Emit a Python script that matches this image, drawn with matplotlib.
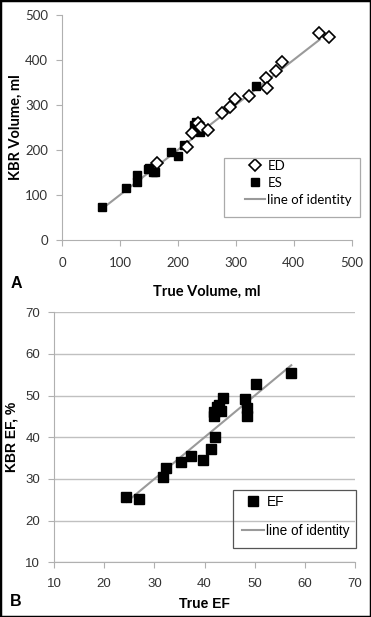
import numpy as np
import matplotlib
matplotlib.use('Agg')
import matplotlib.pyplot as plt
from matplotlib.patches import Rectangle

# panel A: volumes (ml)
ed_true = [164, 215, 224, 235, 240, 252, 277, 290, 299, 323, 352, 354, 369, 380, 444, 460]
ed_kbr = [170, 207, 237, 259, 250, 244, 281, 296, 314, 320, 359, 337, 374, 396, 459, 451]
es_true = [69, 110, 129, 130, 148, 151, 157, 160, 188, 201, 210, 227, 231, 238, 335]
es_kbr = [74, 116, 144, 129, 157, 159, 150, 152, 196, 187, 211, 255, 262, 240, 342]
ident_a = [69, 445]

# panel B: ejection fraction (%)
ef_true = [24.4, 27.0, 31.7, 32.3, 35.3, 37.3, 39.8, 41.2, 42.0, 41.8, 41.8, 42.4,
           42.8, 43.3, 43.6, 48.0, 48.5, 48.4, 50.3, 57.2]
ef_kbr = [25.6, 25.3, 30.5, 32.6, 34.1, 35.4, 34.5, 37.1, 40.1, 45.1, 46.1, 47.2,
          47.7, 46.3, 49.5, 49.1, 47.0, 45.1, 52.8, 55.4]
ident_b = [24.5, 57.3]

W, H = 371, 617
fig = plt.figure(figsize=(W/100, H/100), dpi=100)
gray = '#9a9a9a'
axcol = '#b0b0b0'
fa = ['Lato', 'DejaVu Sans']
fb = ['Liberation Sans', 'DejaVu Sans']

def fig_box(x0, y0, x1, y1, col):
    # legend frame drawn by hand, pixel coords from top
    fig.patches.append(Rectangle((x0/W, 1-y1/H), (x1-x0)/W, (y1-y0)/H, transform=fig.transFigure,
                                 fill=False, edgecolor=col, lw=0.9, zorder=5))

# ---- panel A
ax1 = fig.add_axes([62/W, 1-240/H, 289.7/W, 225.3/H])
ax1.plot(ident_a, ident_a, color=gray, lw=1.5, zorder=1, label='line of identity')
ax1.plot(es_true, es_kbr, 's', ms=6, color='black', zorder=2, label='ES')
ax1.plot(ed_true, ed_kbr, 'D', ms=6, mfc='white', mec='black', mew=1.2, zorder=3, label='ED')
ax1.set_xlim(0, 500)
ax1.set_ylim(0, 500)
ax1.set_xticks(np.arange(0, 501, 100))
ax1.set_yticks(np.arange(0, 501, 100))
for s in ['top', 'right']:
    ax1.spines[s].set_visible(False)
for s in ['left', 'bottom']:
    ax1.spines[s].set_color(axcol)
ax1.tick_params(direction='out', length=4, color=axcol, labelsize=9.5)
ax1.tick_params(axis='x', pad=8)
ax1.tick_params(axis='y', pad=6)
for t in ax1.get_xticklabels() + ax1.get_yticklabels():
    t.set_family(fa)
    t.set_color('#333333')
ax1.set_xlabel('True Volume, ml', family=fa, fontweight='bold', fontsize=10.5, va='top')
ax1.set_ylabel('KBR Volume, ml', family=fa, fontweight='bold', fontsize=10.5)
ax1.xaxis.set_label_coords(0.5, -0.2)
ax1.yaxis.set_label_coords(-0.136, 0.5)
h, l = ax1.get_legend_handles_labels()
ax1.legend([h[2], h[1], h[0]], [l[2], l[1], l[0]], loc='upper left',
           bbox_to_anchor=(245/W, 1-160/H), bbox_transform=fig.transFigure,
           frameon=False, prop={'family': fa, 'size': 9.5}, handlelength=1.5,
           handletextpad=0.2, labelspacing=0.38, borderpad=0, borderaxespad=0)
fig_box(224, 158, 360, 217, '#aaaaaa')

# ---- panel B
ax2 = fig.add_axes([54/W, 1-562.3/H, 301/W, 250/H])
ax2.plot(ident_b, ident_b, color=gray, lw=1.5, zorder=2, label='line of identity')
ax2.plot(ef_true, ef_kbr, 's', ms=7.5, color='black', zorder=3, label='EF')
ax2.set_xlim(10, 70)
ax2.set_ylim(10, 70)
ax2.set_xticks(np.arange(10, 71, 10))
ax2.set_yticks(np.arange(10, 71, 10))
ax2.grid(axis='y', color='#c0c0c0', lw=1)
ax2.set_axisbelow(True)
for s in ['top', 'right']:
    ax2.spines[s].set_visible(False)
for s in ['left', 'bottom']:
    ax2.spines[s].set_color(axcol)
ax2.tick_params(direction='out', length=4, color=axcol, labelsize=9.5)
ax2.tick_params(axis='x', pad=7)
ax2.tick_params(axis='y', pad=6)
for t in ax2.get_xticklabels() + ax2.get_yticklabels():
    t.set_family(fb)
    t.set_color('#333333')
ax2.set_xlabel('True EF', family=fb, fontweight='bold', fontsize=10, va='top')
ax2.set_ylabel('KBR EF, %', family=fb, fontweight='bold', fontsize=10)
ax2.xaxis.set_label_coords(0.5, -0.139)
ax2.yaxis.set_label_coords(-0.119, 0.5)
h, l = ax2.get_legend_handles_labels()
ax2.legend([h[1], h[0]], [l[1], l[0]], loc='upper left',
           bbox_to_anchor=(242/W, 1-495/H), bbox_transform=fig.transFigure,
           frameon=False, prop={'family': fb, 'size': 9.8}, handlelength=1.6,
           handletextpad=0.2, labelspacing=1.1, borderpad=0, borderaxespad=0)
fig_box(233, 490, 356, 548, '#555555')

# panel letters and frame
fig.text(16/W, 1-284/H, 'A', family=fb, fontweight='bold', fontsize=11.5, va='center', ha='center')
fig.text(16/W, 1-601/H, 'B', family=fb, fontweight='bold', fontsize=11.5, va='center', ha='center')
fig.patches.append(Rectangle((0, 0), 1, 1, transform=fig.transFigure, fill=False,
                             edgecolor='black', lw=2.5))

fig.savefig('out.png', dpi=100)
